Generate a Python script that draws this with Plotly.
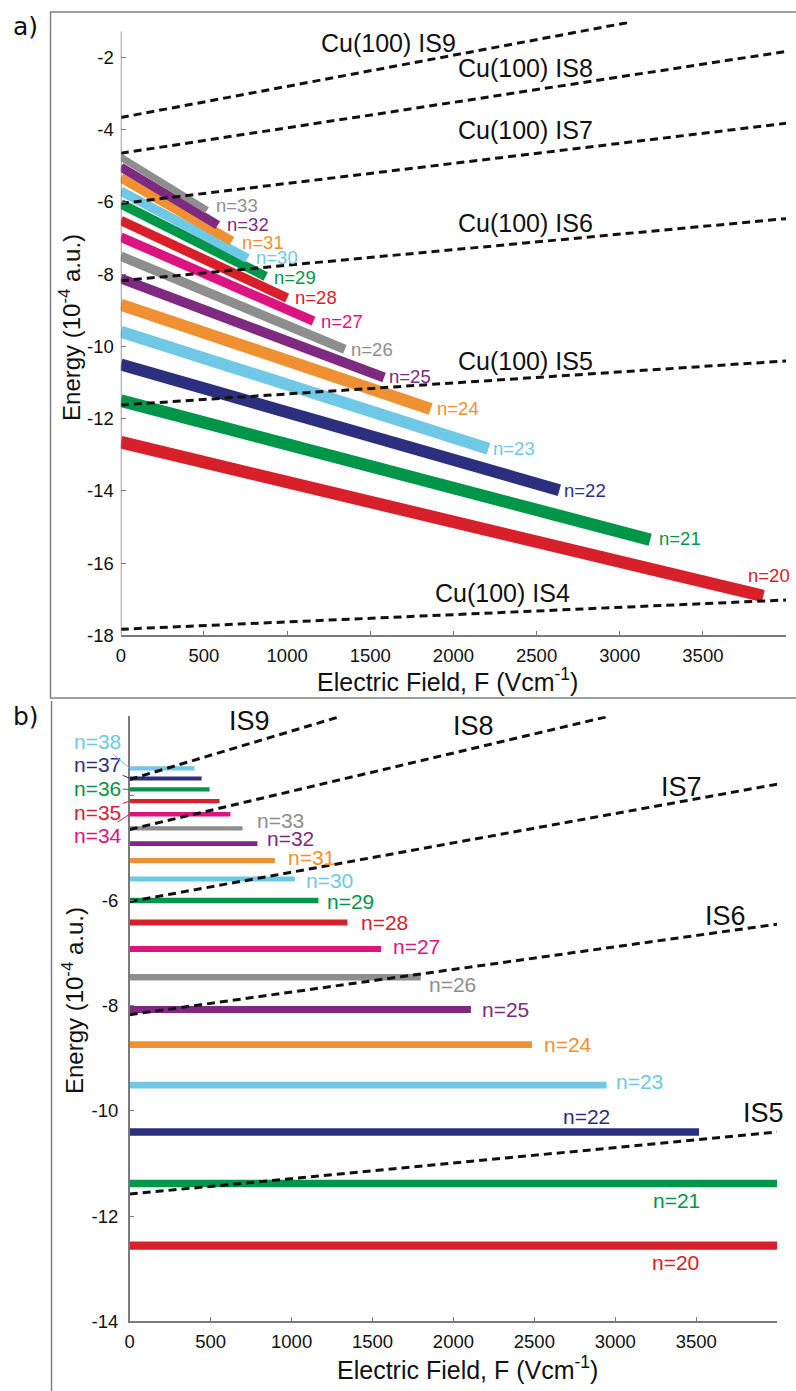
import plotly.graph_objects as go

W, H = 796, 1391
FONT = "Liberation Sans, Arial, Helvetica, sans-serif"

# ---------------- panel a: Stark-shifted Rydberg levels ----------------
n_a = [20, 21, 22, 23, 24, 25, 26, 27, 28, 29, 30, 31, 32, 33]
E0_a = [-12.65, -11.50, -10.50, -9.59, -8.84, -8.12, -7.50, -6.97, -6.51, -6.05, -5.70, -5.33, -5.03, -4.76]
Fend_a = [3863, 3183, 2637, 2210, 1863, 1583, 1347, 1159, 1000, 871, 762, 668, 583, 518]
Eend_a = [-16.91, -15.35, -13.98, -12.83, -11.73, -10.86, -10.08, -9.30, -8.66, -8.06, -7.56, -7.08, -6.64, -6.23]

# image-potential states, Cu(100): start/end field and energy
is_a_names = ["IS4", "IS5", "IS6", "IS7", "IS8", "IS9"]
is_a_F0 = [0, 0, 0, 0, 0, 0]
is_a_F1 = [4000, 4000, 4000, 4000, 4000, 3050]
is_a_E0 = [-17.83, -11.62, -8.18, -6.04, -4.65, -3.66]
is_a_E1 = [-17.02, -10.40, -6.46, -3.82, -1.83, -1.03]

# ---------------- panel b: unperturbed levels ----------------
n_b = [20, 21, 22, 23, 24, 25, 26, 27, 28, 29, 30, 31, 32, 33, 34, 35, 36, 37, 38]
E_b = [-12.56, -11.38, -10.40, -9.51, -8.74, -8.07, -7.46, -6.92, -6.42, -6.00,
       -5.59, -5.24, -4.92, -4.63, -4.36, -4.11, -3.89, -3.68, -3.49]
Fend_b = [4000, 4000, 3517, 2946, 2485, 2108, 1798, 1553, 1345, 1166,
          1021, 897, 789, 697, 622, 555, 493, 444, 400]

is_b_names = ["IS5", "IS6", "IS7", "IS8", "IS9"]
is_b_F1 = [4000, 4000, 4000, 2960, 1288]
is_b_E0 = [-11.58, -8.17, -6.02, -4.65, -3.70]
is_b_E1 = [-10.40, -6.45, -3.79, -2.50, -2.515]

x_ticks = [0, 500, 1000, 1500, 2000, 2500, 3000, 3500, 4000]
x_ticktext = ["0", "500", "1000", "1500", "2000", "2500", "3000", "3500", " "]
ya_ticks = [-18, -16, -14, -12, -10, -8, -6, -4, -2]
yb_ticks = [-14, -12, -10, -8, -6, -4]
yb_ticktext = ["-14", "-12", "-10", "-8", "-6", " "]

# colour for each principal quantum number
RED, GREEN, NAVY, LBLUE = "#D8202B", "#00964A", "#2B2F7E", "#6FC9E6"
ORANGE, PURPLE, GRAY, MAGENTA = "#EF9132", "#7E2A80", "#8E8E8E", "#DC1480"
color_of = {20: RED, 21: GREEN, 22: NAVY, 23: LBLUE, 24: ORANGE, 25: PURPLE, 26: GRAY,
            27: MAGENTA, 28: RED, 29: GREEN, 30: LBLUE, 31: ORANGE, 32: PURPLE, 33: GRAY,
            34: MAGENTA, 35: RED, 36: GREEN, 37: NAVY, 38: LBLUE}

width_a = {20: 12.5, 21: 12.5, 22: 12, 23: 12, 24: 12, 25: 10, 26: 9.5, 27: 9.5,
           28: 9.5, 29: 9.5, 30: 9.5, 31: 9.5, 32: 9, 33: 7}
width_b = {20: 8.3, 21: 7.5, 22: 7.3, 23: 6.7, 24: 6.7, 25: 7, 26: 6.5, 27: 6, 28: 6,
           29: 5.3, 30: 5, 31: 5, 32: 4.7, 33: 4.3, 34: 4.5, 35: 4.3, 36: 4.3, 37: 4, 38: 4.3}

# label placement relative to the line end: (xanchor, dx px, dy px)
lab_a = {20: ("center", 6, 21), 21: ("left", 7, 1), 22: ("left", 3, 0), 23: ("left", 3, 0),
         24: ("left", 4, 0), 25: ("left", 3, 1), 26: ("left", 4, 0), 27: ("left", 5, 0),
         28: ("left", 6, 1), 29: ("left", 6, -1), 30: ("left", 6, 1), 31: ("left", 8, -1),
         32: ("left", 7, 1), 33: ("left", 7, 5)}
lab_b = {20: ("center", -102, -17), 21: ("center", -101, -17), 22: ("center", -112, 16),
         23: ("left", 7, 4), 24: ("left", 10, 0), 25: ("left", 9, 0), 26: ("left", 6, -7),
         27: ("left", 10, 2), 28: ("left", 12, 0), 29: ("left", 7, -1), 30: ("left", 9, -2),
         31: ("left", 11, 3), 32: ("left", 8, 5), 33: ("left", 12, 8)}
# leader-line labels at the top of panel b: text offset (px) from line start
lead_b = {38: (-32, -27), 37: (-32, -14), 36: (-32, -1), 35: (-32, 11), 34: (-32, 21)}

is_lab_a = {"IS9": (1607, -1.59), "IS8": (2431, -2.28), "IS7": (2431, -4.01),
            "IS6": (2431, -6.59), "IS5": (2431, -10.39), "IS4": (2295, -16.83)}
is_lab_b = {"IS9": (738, -2.585), "IS8": (2122, -2.69), "IS7": (3407, -3.85),
            "IS6": (3682, -6.30), "IS5": (3914, -10.04)}

DASH = dict(color="#111111", width=3, dash="8px,5px")
AXC = "#7A7A7A"
TXT = "#111111"


def py(p):
    return 1 - p / H


fig = go.Figure()

# panel a traces
for n, e0, f1, e1 in zip(n_a, E0_a, Fend_a, Eend_a):
    fig.add_trace(go.Scatter(x=[0, f1], y=[e0, e1], mode="lines", xaxis="x", yaxis="y",
                             line=dict(color=color_of[n], width=width_a[n]),
                             showlegend=False, hoverinfo="skip"))
for f0, f1, e0, e1 in zip(is_a_F0, is_a_F1, is_a_E0, is_a_E1):
    fig.add_trace(go.Scatter(x=[f0, f1], y=[e0, e1], mode="lines", xaxis="x", yaxis="y",
                             line=DASH, showlegend=False, hoverinfo="skip"))

# panel b traces
for n, e, f1 in zip(n_b, E_b, Fend_b):
    fig.add_trace(go.Scatter(x=[0, f1], y=[e, e], mode="lines", xaxis="x2", yaxis="y2",
                             line=dict(color=color_of[n], width=width_b[n]),
                             showlegend=False, hoverinfo="skip"))
for f1, e0, e1 in zip(is_b_F1, is_b_E0, is_b_E1):
    fig.add_trace(go.Scatter(x=[0, f1], y=[e0, e1], mode="lines", xaxis="x2", yaxis="y2",
                             line=DASH, showlegend=False, hoverinfo="skip"))

ann = []
# n labels, panel a
for n, f1, e1 in zip(n_a, Fend_a, Eend_a):
    anc, dx, dy = lab_a[n]
    ann.append(dict(x=f1, y=e1, xref="x", yref="y", text=f"n={n}", showarrow=False,
                    xanchor=anc, yanchor="middle", xshift=dx, yshift=dy,
                    font=dict(family=FONT, size=18.5, color=color_of[n])))
# n labels, panel b
for n, e, f1 in zip(n_b, E_b, Fend_b):
    if n in lab_b:
        anc, dx, dy = lab_b[n]
        ann.append(dict(x=f1, y=e, xref="x2", yref="y2", text=f"n={n}", showarrow=False,
                        xanchor=anc, yanchor="middle", xshift=dx, yshift=dy,
                        font=dict(family=FONT, size=21, color=color_of[n])))
    else:
        axp, ayp = lead_b[n]
        ann.append(dict(x=0, y=e, xref="x2", yref="y2", text=f"n={n}", showarrow=True,
                        arrowhead=0, arrowwidth=1, arrowcolor=color_of[n], standoff=0,
                        ax=axp, ay=ayp, axref="pixel", ayref="pixel",
                        font=dict(family=FONT, size=21, color=color_of[n])))
# image-state labels
for name, (fx, ey) in is_lab_a.items():
    ann.append(dict(x=fx, y=ey, xref="x", yref="y", text=f"Cu(100) {name}", showarrow=False,
                    xanchor="center", yanchor="middle",
                    font=dict(family=FONT, size=25, color=TXT)))
for name, (fx, ey) in is_lab_b.items():
    ann.append(dict(x=fx, y=ey, xref="x2", yref="y2", text=name, showarrow=False,
                    xanchor="center", yanchor="middle",
                    font=dict(family=FONT, size=27, color=TXT)))

# axis titles and panel letters
xt = "Electric Field, F (Vcm<sup>-1</sup>)"
yt = "Energy (10<sup>-4</sup> a.u.)"
ann += [
    dict(x=447 / W, y=py(685), xref="paper", yref="paper", text=xt, showarrow=False,
         xanchor="center", yanchor="middle", font=dict(family=FONT, size=25, color=TXT)),
    dict(x=467 / W, y=py(1378), xref="paper", yref="paper", text=xt, showarrow=False,
         xanchor="center", yanchor="middle", font=dict(family=FONT, size=25, color=TXT)),
    dict(x=65 / W, y=py(330), xref="paper", yref="paper", text=yt, showarrow=False,
         xanchor="center", yanchor="middle", textangle=-90,
         font=dict(family=FONT, size=24, color=TXT)),
    dict(x=68 / W, y=py(1008), xref="paper", yref="paper", text=yt, showarrow=False,
         xanchor="center", yanchor="middle", textangle=-90,
         font=dict(family=FONT, size=24, color=TXT)),
    dict(x=6 / W, y=py(27), xref="paper", yref="paper", text="a)", showarrow=False,
         xanchor="left", yanchor="middle",
         font=dict(family="DejaVu Sans", size=25, color=TXT)),
    dict(x=6 / W, y=py(722), xref="paper", yref="paper", text="b)", showarrow=False,
         xanchor="left", yanchor="middle",
         font=dict(family="DejaVu Sans", size=25, color=TXT)),
]

shapes = [
    # panel frames
    dict(type="rect", xref="paper", yref="paper", x0=46 / W, x1=1.02, y0=py(703), y1=py(12),
         line=dict(color="#808080", width=1.5), layer="below"),
    dict(type="line", xref="paper", yref="paper", x0=47 / W, x1=47 / W, y0=py(706), y1=-0.01,
         line=dict(color="#808080", width=1.5)),
    # left axis line of panel a (stops below the top of the plotting area)
    dict(type="line", xref="x", yref="y", x0=0, x1=0, y0=-18, y1=-1.28,
         line=dict(color=AXC, width=1.5)),
]

axis_common = dict(showgrid=False, zeroline=False, ticks="inside", ticklen=5, tickwidth=1.2,
                   tickcolor=AXC, linecolor=AXC, linewidth=1.5,
                   tickfont=dict(family=FONT, size=18.5, color=TXT))

fig.update_layout(
    width=W, height=H, margin=dict(l=0, r=0, t=0, b=0),
    paper_bgcolor="white", plot_bgcolor="rgba(0,0,0,0)",
    font=dict(family=FONT),
    xaxis=dict(domain=[117 / W, 789 / W], range=[0, 4000], anchor="y", showline=True,
               tickvals=x_ticks, ticktext=x_ticktext, ticklabelstandoff=3, **axis_common),
    yaxis=dict(domain=[py(640), py(21.6)], range=[-18, -1.0], anchor="x", showline=False,
               tickvals=ya_ticks, ticktext=[str(v) for v in ya_ticks], ticklabelstandoff=6,
               **axis_common),
    xaxis2=dict(domain=[126 / W, 780 / W], range=[0, 4000], anchor="y2", showline=True,
                tickvals=x_ticks, ticktext=x_ticktext, ticklabelstandoff=3, **axis_common),
    yaxis2=dict(domain=[py(1331), py(721.5)], range=[-14, -2.5], anchor="x2", showline=True,
                tickvals=yb_ticks, ticktext=yb_ticktext, ticklabelstandoff=6, **axis_common),
    annotations=ann, shapes=shapes,
)

fig.write_html("out.html")
